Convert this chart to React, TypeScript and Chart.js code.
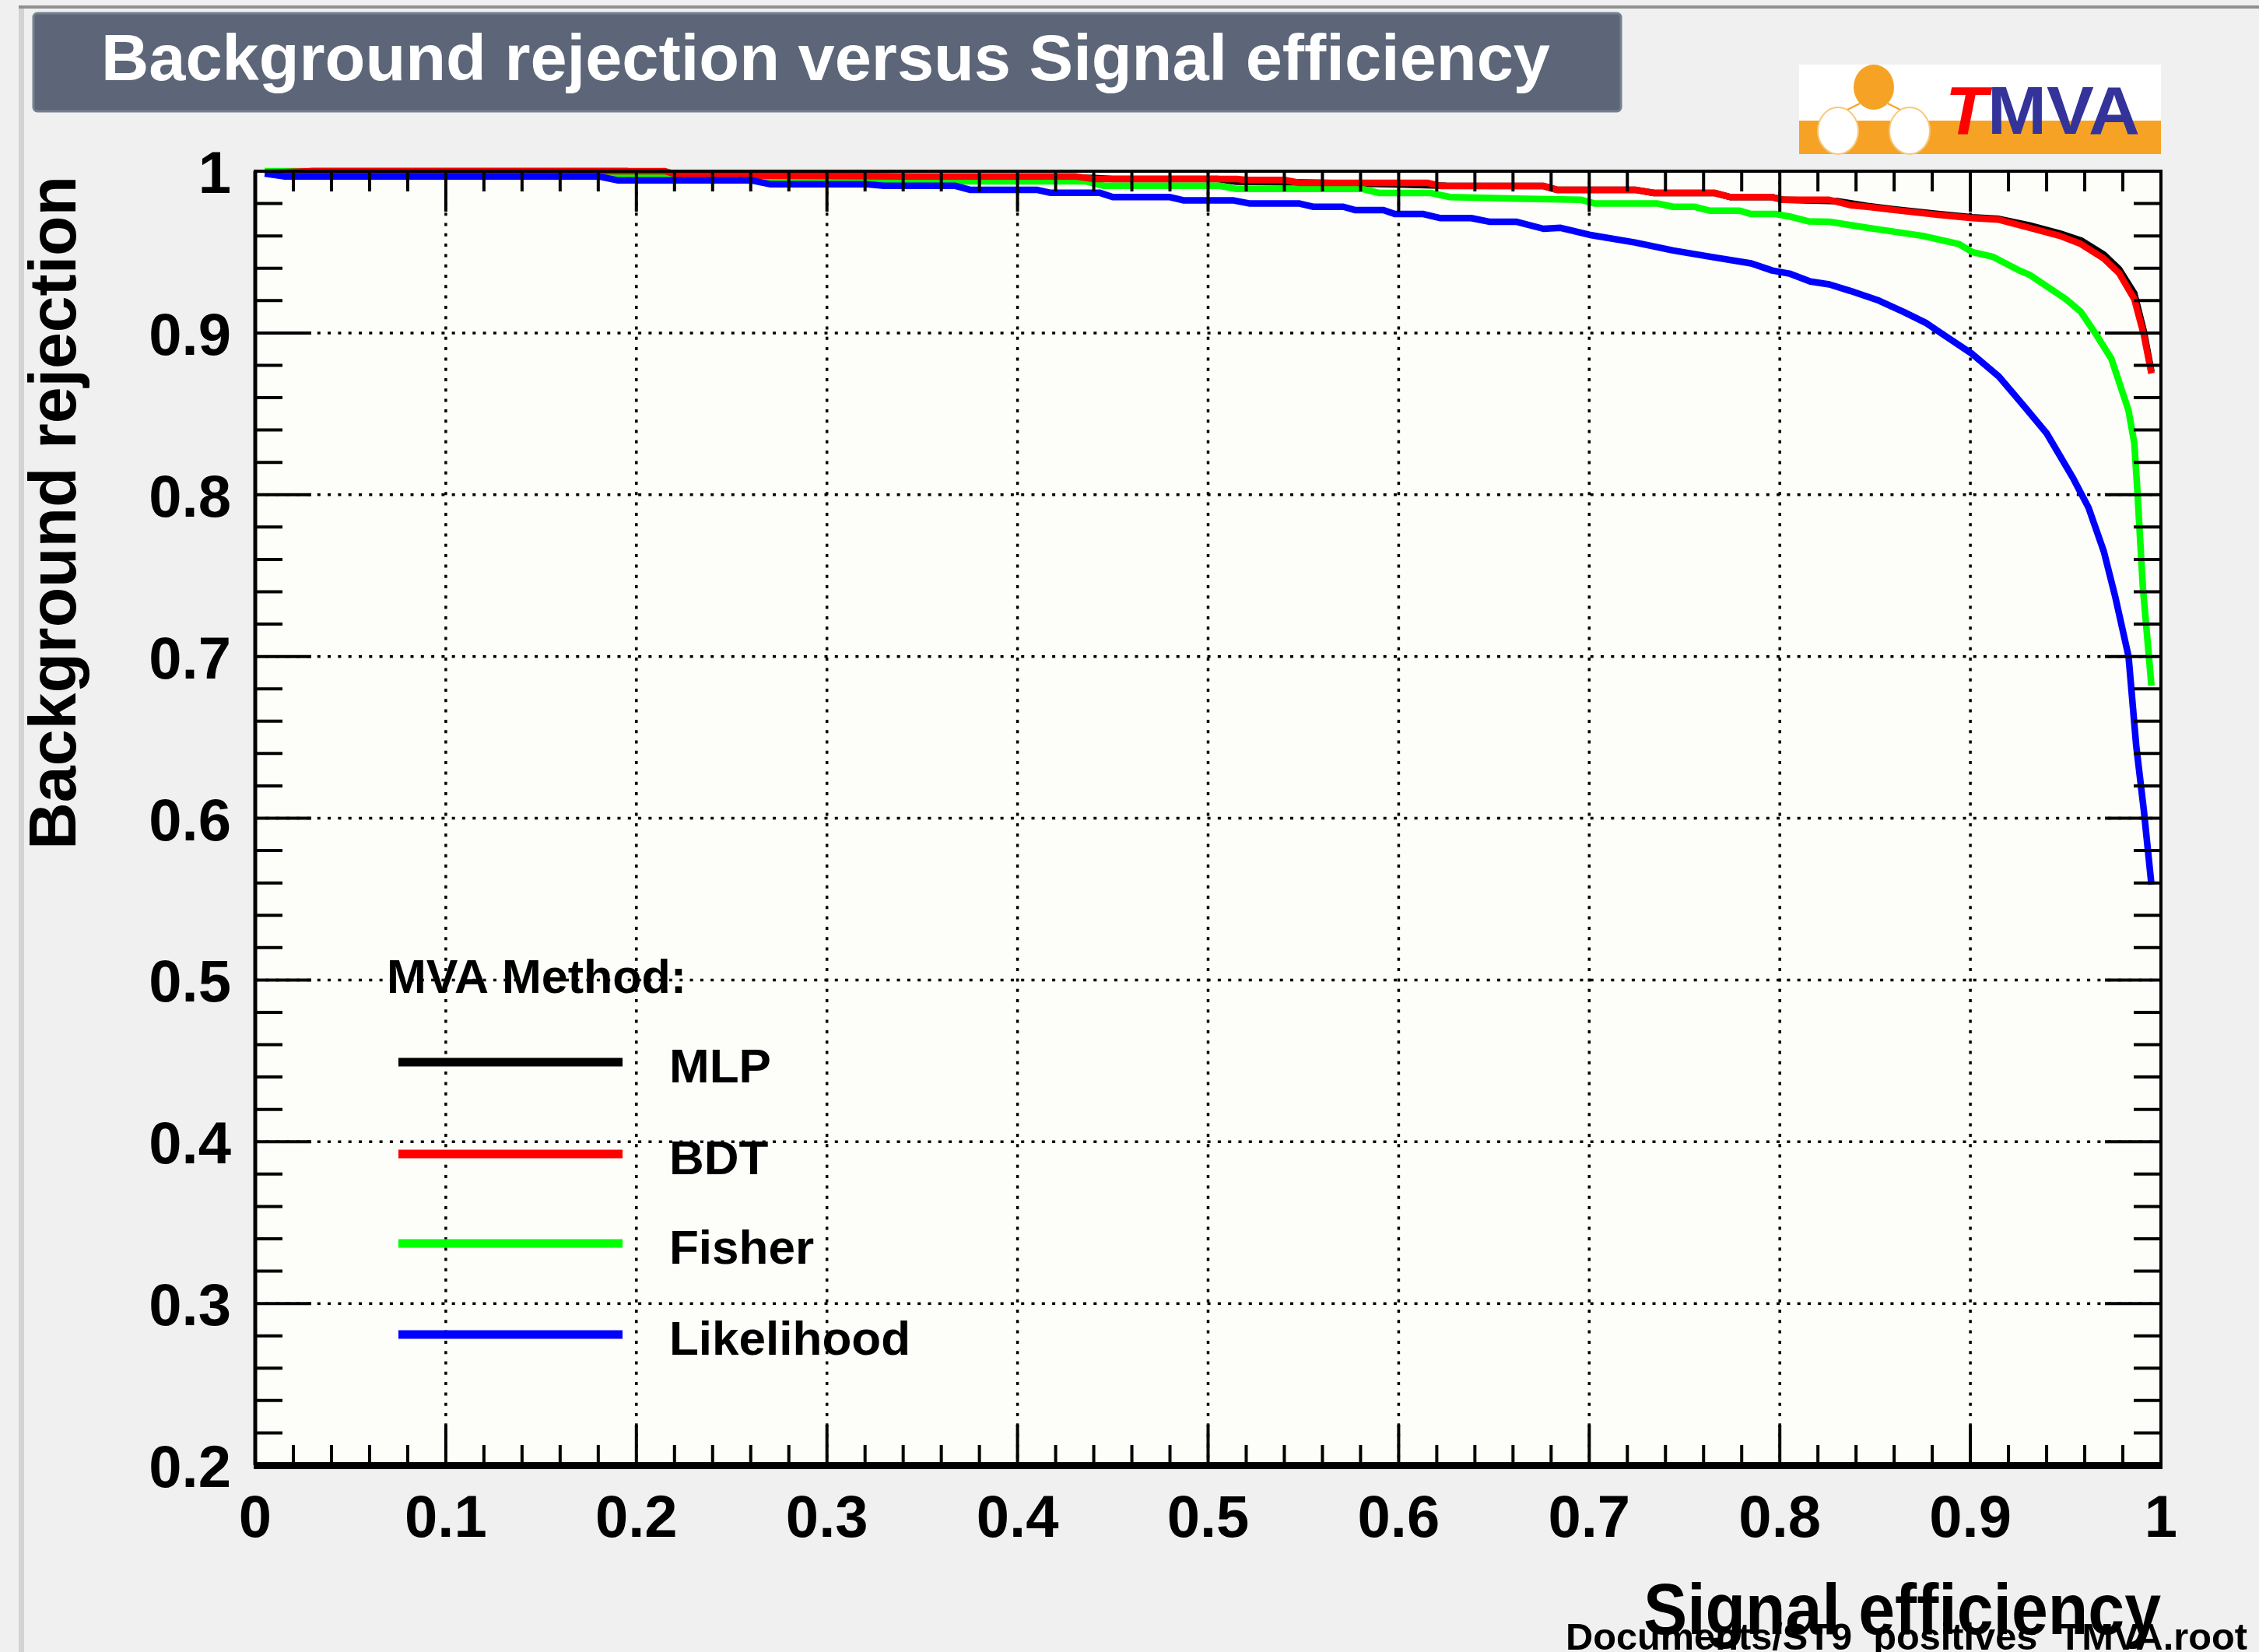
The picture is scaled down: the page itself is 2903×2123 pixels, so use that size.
import React, { useEffect, useRef } from 'react';
import { Chart, registerables } from 'chart.js';

Chart.register(...registerables);

const W = 2903;
const H = 2123;
const FONT = '"Liberation Sans", Arial, Helvetica, sans-serif';

// ROC curves: signal efficiency (x) against background rejection (y)
const methodNames = ['MLP', 'BDT', 'Fisher', 'Likelihood'];
const methodColors = ['#000000', '#ff0000', '#00ff00', '#0000ff'];

const mlpEff = [0.005, 0.03, 0.195, 0.205, 0.33, 0.39, 0.44, 0.45, 0.505, 0.515, 0.55, 0.6, 0.625, 0.676, 0.683, 0.724, 0.734, 0.766, 0.774, 0.796, 0.802, 0.83, 0.846, 0.86, 0.883, 0.901, 0.915, 0.931, 0.947, 0.958, 0.97, 0.978, 0.986, 0.991, 0.995];
const mlpRej = [0.999, 1.0, 1.0, 0.9976, 0.9968, 0.996, 0.9958, 0.9952, 0.9952, 0.9935, 0.993, 0.9918, 0.991, 0.9908, 0.9885, 0.9885, 0.9865, 0.9865, 0.984, 0.984, 0.9823, 0.9815, 0.9785, 0.9765, 0.9735, 0.9715, 0.9705, 0.9665, 0.9615, 0.9572, 0.9485, 0.9395, 0.9245, 0.901, 0.876];

const bdtEff = [0.005, 0.03, 0.215, 0.222, 0.34, 0.43, 0.44, 0.515, 0.52, 0.54, 0.548, 0.615, 0.622, 0.676, 0.683, 0.724, 0.734, 0.766, 0.774, 0.796, 0.802, 0.826, 0.837, 0.846, 0.86, 0.883, 0.901, 0.915, 0.931, 0.947, 0.958, 0.97, 0.978, 0.986, 0.991, 0.995];
const bdtRej = [0.999, 1.0, 1.0, 0.9976, 0.9968, 0.9968, 0.9952, 0.9952, 0.9946, 0.9946, 0.9928, 0.9928, 0.9909, 0.9909, 0.9885, 0.9885, 0.9865, 0.9865, 0.984, 0.984, 0.9823, 0.9823, 0.979, 0.978, 0.976, 0.973, 0.971, 0.97, 0.965, 0.96, 0.955, 0.946, 0.937, 0.921, 0.899, 0.875];

const fisherEff = [0.005, 0.027, 0.035, 0.26, 0.27, 0.32, 0.33, 0.436, 0.445, 0.506, 0.515, 0.581, 0.59, 0.617, 0.627, 0.662, 0.696, 0.703, 0.736, 0.744, 0.755, 0.763, 0.779, 0.785, 0.798, 0.805, 0.815, 0.826, 0.846, 0.852, 0.875, 0.894, 0.901, 0.912, 0.925, 0.931, 0.936, 0.95, 0.958, 0.966, 0.974, 0.983, 0.986, 0.9875, 0.9905, 0.995];
const fisherRej = [1.0, 1.0, 0.9976, 0.9976, 0.9957, 0.9957, 0.9937, 0.9937, 0.991, 0.991, 0.989, 0.989, 0.9865, 0.9865, 0.984, 0.983, 0.9823, 0.98, 0.98, 0.978, 0.978, 0.9756, 0.9756, 0.9735, 0.9735, 0.972, 0.969, 0.9687, 0.965, 0.964, 0.96, 0.955, 0.95, 0.947, 0.939, 0.936, 0.932, 0.921, 0.913, 0.899, 0.884, 0.852, 0.832, 0.805, 0.743, 0.682];

const likelihoodEff = [0.005, 0.015, 0.18, 0.19, 0.26, 0.27, 0.32, 0.33, 0.367, 0.375, 0.41, 0.417, 0.443, 0.45, 0.48, 0.487, 0.513, 0.522, 0.548, 0.555, 0.571, 0.577, 0.592, 0.598, 0.613, 0.622, 0.638, 0.648, 0.662, 0.676, 0.685, 0.7, 0.724, 0.744, 0.764, 0.785, 0.796, 0.805, 0.816, 0.826, 0.837, 0.852, 0.865, 0.877, 0.887, 0.901, 0.915, 0.928, 0.94, 0.954, 0.962, 0.97, 0.976, 0.983, 0.987, 0.991, 0.995];
const likelihoodRej = [0.9985, 0.9968, 0.9968, 0.9944, 0.9944, 0.992, 0.992, 0.991, 0.991, 0.9885, 0.9885, 0.9867, 0.9867, 0.984, 0.984, 0.982, 0.982, 0.98, 0.98, 0.978, 0.978, 0.976, 0.976, 0.9735, 0.9735, 0.971, 0.971, 0.9687, 0.9687, 0.9644, 0.965, 0.9607, 0.9559, 0.951, 0.947, 0.943, 0.9386, 0.9367, 0.9318, 0.93, 0.926, 0.92, 0.913, 0.906, 0.898, 0.887, 0.873, 0.855, 0.838, 0.81, 0.792, 0.765, 0.737, 0.7, 0.645, 0.605, 0.559];

const seriesEff = [mlpEff, bdtEff, fisherEff, likelihoodEff];
const seriesRej = [mlpRej, bdtRej, fisherRej, likelihoodRej];
// stacking: Likelihood on top, then BDT, Fisher, MLP underneath
const seriesOrder = [3, 1, 2, 0];

const xTickLabels = ['0', '0.1', '0.2', '0.3', '0.4', '0.5', '0.6', '0.7', '0.8', '0.9', '1'];
const yTickLabels = ['0.2', '0.3', '0.4', '0.5', '0.6', '0.7', '0.8', '0.9', '1'];

const titleText = 'Background rejection versus Signal efficiency';
const xAxisTitle = 'Signal efficiency';
const yAxisTitle = 'Background rejection';
const legendHeader = 'MVA Method:';
const fileLabel = 'Documents/ST9_positives_TMVA.root';

function fitText(ctx: CanvasRenderingContext2D, text: string, x: number, y: number, width: number, align: CanvasTextAlign) {
  const w = ctx.measureText(text).width;
  ctx.save();
  ctx.translate(x, y);
  ctx.scale(width / w, 1);
  ctx.textAlign = align;
  ctx.fillText(text, 0, 0);
  ctx.restore();
}

function seg(ctx: CanvasRenderingContext2D, x1: number, y1: number, x2: number, y2: number) {
  ctx.beginPath();
  ctx.moveTo(x1, y1);
  ctx.lineTo(x2, y2);
  ctx.stroke();
}

const canvasDecor = {
  id: 'canvasDecor',
  beforeDraw(chart: any) {
    const ctx: CanvasRenderingContext2D = chart.ctx;
    const { left, right, top, bottom } = chart.chartArea;
    ctx.save();
    // page
    ctx.fillStyle = '#eff0ef';
    ctx.fillRect(0, 0, W, H);
    ctx.fillStyle = '#d2d3d3';
    ctx.fillRect(24, 7, 7, H - 7);
    ctx.fillStyle = '#8f9090';
    ctx.fillRect(24, 7, W - 24, 4);

    // title box
    ctx.fillStyle = '#5c6678';
    ctx.beginPath();
    ctx.roundRect(43, 17, 2040, 126, 5);
    ctx.fill();
    ctx.strokeStyle = '#75808f';
    ctx.lineWidth = 3;
    ctx.stroke();
    ctx.fillStyle = '#ffffff';
    ctx.font = `bold 84px ${FONT}`;
    ctx.textBaseline = 'alphabetic';
    fitText(ctx, titleText, 130, 103, 1862, 'left');

    // TMVA logo
    const orange = '#f6a325';
    ctx.fillStyle = '#ffffff';
    ctx.fillRect(2312, 83, 465, 115);
    ctx.fillStyle = orange;
    ctx.fillRect(2312, 155, 465, 43);
    ctx.strokeStyle = orange;
    ctx.lineWidth = 2;
    seg(ctx, 2390, 133, 2372, 142);
    seg(ctx, 2426, 133, 2444, 142);
    ctx.beginPath();
    ctx.ellipse(2408, 112, 26, 29, 0, 0, Math.PI * 2);
    ctx.fill();
    for (const cx of [2362, 2454]) {
      ctx.beginPath();
      ctx.ellipse(cx, 168, 26, 30, 0, 0, Math.PI * 2);
      ctx.fillStyle = '#ffffff';
      ctx.fill();
      ctx.strokeStyle = '#f8c77a';
      ctx.stroke();
    }
    ctx.font = `italic bold 88px ${FONT}`;
    ctx.fillStyle = '#ff0000';
    fitText(ctx, 'T', 2500, 172, 54, 'left');
    ctx.font = `bold 88px ${FONT}`;
    ctx.fillStyle = '#33339a';
    fitText(ctx, 'MVA', 2554, 172, 196, 'left');

    // plot pad
    ctx.fillStyle = '#fdfdf9';
    ctx.fillRect(left, top, right - left, bottom - top);
    ctx.restore();
  },
  beforeDatasetsDraw(chart: any) {
    const ctx: CanvasRenderingContext2D = chart.ctx;
    const { left, right, top, bottom } = chart.chartArea;
    const xs = chart.scales.x;
    const ys = chart.scales.y;
    ctx.save();
    ctx.strokeStyle = '#000000';
    ctx.lineWidth = 3.5;
    ctx.setLineDash([4, 9.3]);
    xTickLabels.slice(1, -1).forEach((t) => {
      const px = xs.getPixelForValue(Number(t));
      seg(ctx, px, top, px, bottom);
    });
    yTickLabels.slice(1, -1).forEach((t) => {
      const py = ys.getPixelForValue(Number(t));
      seg(ctx, left, py, right, py);
    });
    ctx.restore();
  },
  afterDatasetsDraw(chart: any) {
    const ctx: CanvasRenderingContext2D = chart.ctx;
    const { left, right, top, bottom } = chart.chartArea;
    const xs = chart.scales.x;
    const ys = chart.scales.y;
    ctx.save();
    ctx.strokeStyle = '#000000';
    ctx.fillStyle = '#000000';
    ctx.setLineDash([]);

    // ticks on all four sides, minor every 0.02
    ctx.lineWidth = 4;
    for (let i = 0; i <= 50; i++) {
      const px = xs.getPixelForValue(i / 50);
      const len = i % 5 === 0 ? 52 : 26;
      seg(ctx, px, bottom, px, bottom - len);
      seg(ctx, px, top, px, top + len);
    }
    for (let j = 0; j <= 40; j++) {
      const py = ys.getPixelForValue(0.2 + j / 50);
      const len = j % 5 === 0 ? 72 : 35;
      seg(ctx, left, py, left + len, py);
      seg(ctx, right, py, right - len, py);
    }

    // frame
    ctx.lineWidth = 4;
    ctx.strokeRect(left, top, right - left, bottom - top);
    ctx.fillRect(left - 2, bottom - 4, right - left + 4, 9);
    ctx.fillRect(left - 2.5, top, 5, bottom - top);

    // tick labels
    ctx.font = `bold 76px ${FONT}`;
    ctx.textBaseline = 'alphabetic';
    ctx.textAlign = 'right';
    yTickLabels.forEach((t) => {
      ctx.fillText(t, left - 31, ys.getPixelForValue(Number(t)) + 28);
    });
    ctx.textAlign = 'center';
    xTickLabels.forEach((t) => {
      ctx.fillText(t, xs.getPixelForValue(Number(t)), bottom + 92);
    });

    // axis titles
    ctx.font = `bold 85px ${FONT}`;
    ctx.save();
    ctx.translate(97, 226);
    ctx.rotate(-Math.PI / 2);
    fitText(ctx, yAxisTitle, 0, 0, 866, 'right');
    ctx.restore();
    ctx.font = `bold 92px ${FONT}`;
    fitText(ctx, xAxisTitle, right, 2100, 665, 'right');

    // legend
    ctx.font = `bold 61px ${FONT}`;
    ctx.textAlign = 'left';
    ctx.fillText(legendHeader, 497, 1276);
    const rows = [1365, 1483, 1598, 1715];
    chart.data.datasets.forEach((ds: any, i: number) => {
      ctx.strokeStyle = ds.borderColor;
      ctx.lineWidth = 11;
      seg(ctx, 512, rows[i], 800, rows[i]);
      ctx.fillStyle = '#000000';
      ctx.font = `bold 62px ${FONT}`;
      ctx.fillText(ds.label, 860, rows[i] + 26);
    });

    // source file, sitting on the bottom edge of the canvas
    ctx.font = `bold 48px ${FONT}`;
    fitText(ctx, fileLabel, 2888, 2120, 876, 'right');
    ctx.restore();
  },
};

export default function App() {
  const ref = useRef<HTMLCanvasElement>(null);

  useEffect(() => {
    document.body.style.margin = '0';
    const datasets = methodNames.map((name, i) => ({
      label: name,
      data: seriesEff[i].map((x, k) => ({ x, y: seriesRej[i][k] })),
      borderColor: methodColors[i],
      backgroundColor: methodColors[i],
      borderWidth: 8.5,
      pointRadius: 0,
      tension: 0,
      fill: false,
      borderJoinStyle: 'round' as const,
      clip: 12,
      order: seriesOrder[i],
    }));
    const chart = new Chart(ref.current!, {
      type: 'line',
      data: { datasets },
      options: {
        animation: false,
        responsive: false,
        devicePixelRatio: 1,
        events: [],
        layout: { padding: { left: 328, top: 220, right: W - 2777, bottom: H - 1883 } },
        scales: {
          x: { type: 'linear', min: 0, max: 1, display: false },
          y: { type: 'linear', min: 0.2, max: 1, display: false },
        },
        plugins: {
          legend: { display: false },
          title: { display: false },
          tooltip: { enabled: false },
        },
      },
      plugins: [canvasDecor],
    });
    return () => chart.destroy();
  }, []);

  return (
    <div style={{ position: 'absolute', left: 0, top: 0, width: W, height: H }}>
      <canvas ref={ref} width={W} height={H} style={{ display: 'block', width: W, height: H }} />
    </div>
  );
}
